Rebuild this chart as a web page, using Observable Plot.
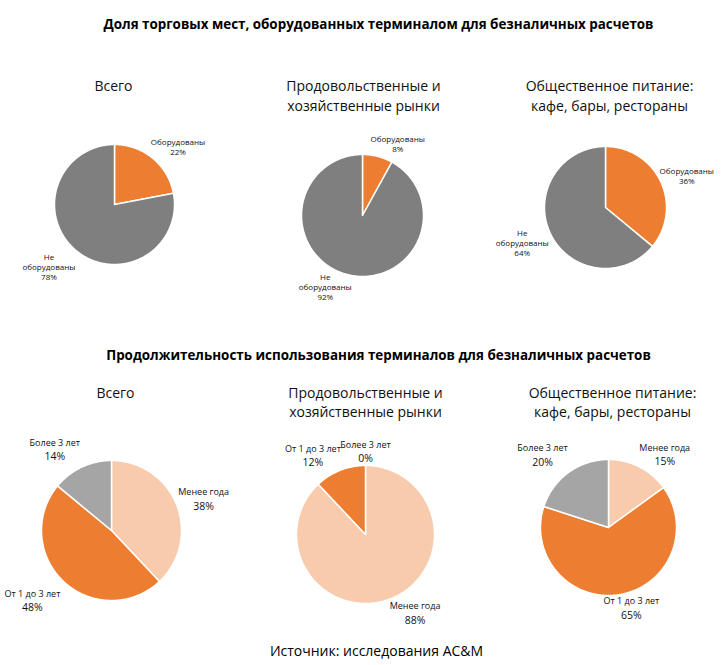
<!DOCTYPE html>
<html>
<head>
<meta charset="utf-8">
<script src="https://cdn.jsdelivr.net/npm/d3@7"></script>
<script src="https://cdn.jsdelivr.net/npm/@observablehq/plot@0.6"></script>
<style>
  body { margin: 0; background: #fff; }
  #chart svg { display: block; }
</style>
</head>
<body>
<div id="chart"></div>
<script>
// ---------- DATA ----------
const sectionTitles = [
  "Доля торговых мест, оборудованных терминалом для безналичных расчетов",
  "Продолжительность использования терминалов для безналичных расчетов"
];
const pieTitles = ["Всего", "Продовольственные и\nхозяйственные рынки", "Общественное питание:\nкафе, бары, рестораны"];

const topCategories = ["Оборудованы", "Не оборудованы"];
const topLabels = ["Оборудованы", "Не\nоборудованы"];
const topTotal = [22, 78];
const topMarkets = [8, 92];
const topCatering = [36, 64];

const bottomCategories = ["Менее года", "От 1 до 3 лет", "Более 3 лет"];
const bottomTotal = [38, 48, 14];
const bottomMarkets = [88, 12, 0];
const bottomCatering = [15, 65, 20];

const caption = "Источник: исследования АС&M";

// ---------- COLOURS ----------
const colorDomain = [...topCategories, ...bottomCategories];
const colorRange = ["#ED7D31", "#7F7F7F", "#F8CBAD", "#ED7D31", "#A5A5A5"];

// ---------- LAYOUT (pixel space of the 722x665 canvas) ----------
const W = 722, H = 665;
const pieLayout = [
  {cx: 114, cy: 204, r: 60}, {cx: 362, cy: 215, r: 61}, {cx: 605, cy: 207, r: 61},
  {cx: 111, cy: 530, r: 70}, {cx: 365, cy: 534, r: 69}, {cx: 608, cy: 527, r: 68}
];
// label nudges (dx, dy) from the point at 1.4*r along each slice's mid angle
const labelNudge = [
  [[10, 7], [-12, -2]],
  [[14, 11], [-16, -11]],
  [[4, 5], [-6, -1]],
  [[1, 5], [-12, -1], [-15, 8]],
  [[14, -11], [-17, 11], [0, 14]],
  [[13, 12], [8, -13], [-10, 5]]
];
const sectionY = [24, 355];
const pieTitleX = [[113, 363, 609], [115, 365, 612]];
const pieTitleY = [86, 393];
const pieTitleGap = [20, 19];

// ---------- BUILD ----------
const pies = [
  {cats: topCategories, labels: topLabels, vals: topTotal, row: 0},
  {cats: topCategories, labels: topLabels, vals: topMarkets, row: 0},
  {cats: topCategories, labels: topLabels, vals: topCatering, row: 0},
  {cats: bottomCategories, labels: bottomCategories, vals: bottomTotal, row: 1},
  {cats: bottomCategories, labels: bottomCategories, vals: bottomMarkets, row: 1},
  {cats: bottomCategories, labels: bottomCategories, vals: bottomCatering, row: 1}
];

const slicePts = [];
const labels = [];
pies.forEach((p, pi) => {
  const L = pieLayout[pi];
  const total = d3.sum(p.vals);
  let acc = 0;
  p.cats.forEach((c, i) => {
    const v = p.vals[i];
    const a0 = acc / total * 2 * Math.PI;
    acc += v;
    const a1 = acc / total * 2 * Math.PI;
    const mid = (a0 + a1) / 2;
    const [ndx, ndy] = labelNudge[pi][i];
    labels.push({
      pie: pi, row: p.row, name: p.labels[i], pct: v + "%",
      x: L.cx + 1.4 * L.r * Math.sin(mid) + ndx,
      y: L.cy - 1.4 * L.r * Math.cos(mid) + ndy
    });
    if (v <= 0) return;
    const id = pi + "-" + i;
    const n = Math.max(2, Math.ceil((a1 - a0) / (Math.PI / 180)));
    slicePts.push({id, cat: c, x: L.cx, y: L.cy});
    for (let k = 0; k <= n; k++) {
      const a = a0 + (a1 - a0) * k / n;
      slicePts.push({id, cat: c, x: L.cx + L.r * Math.sin(a), y: L.cy - L.r * Math.cos(a)});
    }
    slicePts.push({id, cat: c, x: L.cx, y: L.cy});
  });
});

const titleRows = sectionTitles.map((t, i) => ({text: t, x: 378, y: sectionY[i]}));
const subRows = [];
[0, 1].forEach(row => pieTitles.forEach((t, j) => {
  t.split("\n").forEach((line, k) => subRows.push({text: line, x: pieTitleX[row][j], y: pieTitleY[row] + k * pieTitleGap[row]}));
}));

const topLabelRows = labels.filter(d => d.row === 0).map(d => ({x: d.x, y: d.y, text: d.name + "\n" + d.pct}));
const botLabels = labels.filter(d => d.row === 1);

const font = "'Open Sans', sans-serif";

const chart = Plot.plot({
  width: W, height: H,
  margin: 0,
  x: {domain: [0, W], range: [0, W], axis: null},
  y: {domain: [0, H], range: [0, H], axis: null},
  color: {domain: colorDomain, range: colorRange},
  style: {fontFamily: font, background: "#fff"},
  marks: [
    Plot.line(slicePts, {x: "x", y: "y", z: "id", fill: "cat", stroke: "white", strokeWidth: 1.5, strokeLinejoin: "round", curve: "linear"}),
    Plot.text(titleRows, {x: "x", y: "y", text: "text", fontSize: 13.4, fontWeight: "bold", fill: "#000"}),
    Plot.text(subRows, {x: "x", y: "y", text: "text", fontSize: 14, fill: "#111"}),
    Plot.text(topLabelRows, {x: "x", y: "y", text: "text", fontSize: 8, lineHeight: 1.25, fill: "#111"}),
    Plot.text(botLabels, {x: "x", y: "y", dy: -7, text: "name", fontSize: 9, fill: "#111"}),
    Plot.text(botLabels, {x: "x", y: "y", dy: 7, text: "pct", fontSize: 10.5, fill: "#111"}),
    Plot.text([caption], {x: () => 376, y: () => 651, text: d => d, fontSize: 14, fill: "#000"})
  ]
});
document.getElementById("chart").appendChild(chart);
</script>
</body>
</html>
